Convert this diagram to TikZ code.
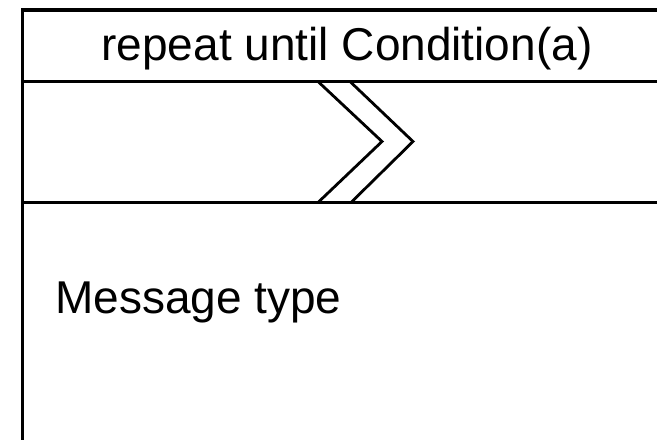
\documentclass[tikz,border=0pt]{standalone}
\usepackage{fontspec}
\setmainfont{Liberation Sans}
\begin{document}
\begin{tikzpicture}[x=1pt,y=-1pt,
  frame/.style={line width=3.3pt},
  chev/.style={line width=2.8pt,line join=miter},
  label/.style={inner sep=0pt,font=\fontsize{46}{55}\selectfont}]
\useasboundingbox (0,0) rectangle (657,440);
% frame
\coordinate (tl) at (22.3,10);
\coordinate (tr) at (657,10);
\coordinate (bl) at (22.3,440);
\draw[frame] (tr) -- (tl) -- (bl);
\draw[frame] (22.3,81.5) -- (657,81.5);
\draw[frame] (22.3,202.5) -- (657,202.5);
% chevrons
\draw[chev] (318,81.5) -- (382,141.5) -- (318,202.5);
\draw[chev] (350,81.5) -- (413,141.5) -- (351,202.5);
% texts
\node[label,anchor=base] (title) at (347,60) {repeat until Condition(a)};
\node[label,anchor=base west] (msg) at (55,313) {Message type};
\end{tikzpicture}
\end{document}
